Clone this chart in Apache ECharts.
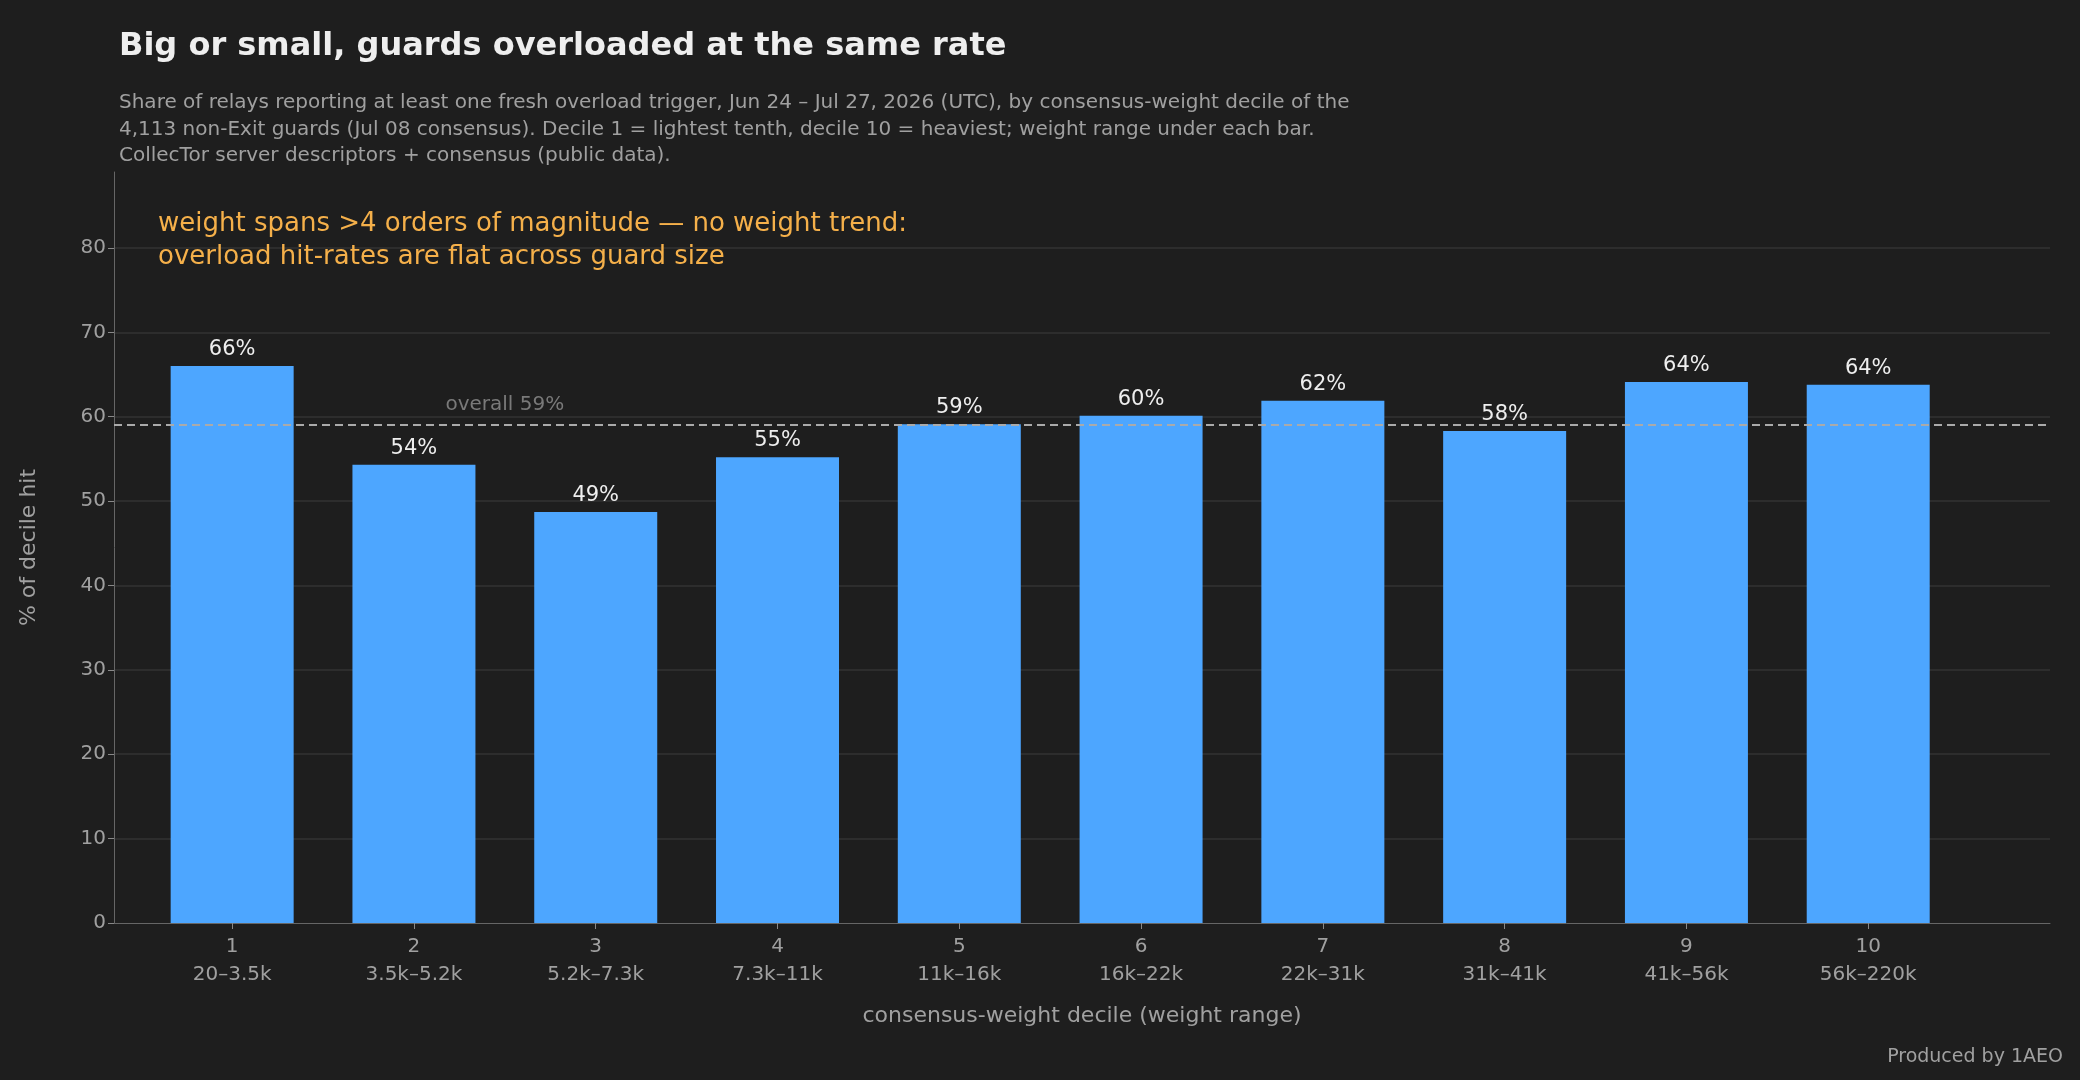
<!DOCTYPE html>
<html>
<head>
<meta charset="utf-8">
<script src="https://cdn.jsdelivr.net/npm/echarts@6/dist/echarts.min.js"></script>
<style>
  html, body { margin: 0; padding: 0; background: #1e1e1e; }
  #chart { width: 2080px; height: 1080px; }
</style>
</head>
<body>
<div id="chart"></div>
<script>
const deciles = [1, 2, 3, 4, 5, 6, 7, 8, 9, 10];
const weightRanges = ['20–3.5k', '3.5k–5.2k', '5.2k–7.3k', '7.3k–11k', '11k–16k',
    '16k–22k', '22k–31k', '31k–41k', '41k–56k', '56k–220k'];
const hitRates = [66.0, 54.3, 48.7, 55.2, 59.1, 60.1, 61.9, 58.3, 64.1, 63.8];
const overall = 59.1;
const yTicks = [0, 10, 20, 30, 40, 50, 60, 70, 80];

const font = '"DejaVu Sans", sans-serif';
let chart = echarts.init(document.getElementById('chart'));

chart.setOption({
    backgroundColor: '#1e1e1e',
    textStyle: { fontFamily: font },
    animation: false,
    title: [
        {
            text: 'Big or small, guards overloaded at the same rate',
            left: 114, top: 26,
            textStyle: { color: '#eeeeee', fontSize: 32, fontWeight: 'bold', fontFamily: font }
        },
        {
            text: 'Share of relays reporting at least one fresh overload trigger, Jun 24 – Jul 27, 2026 (UTC), by consensus-weight decile of the\n' +
                '4,113 non-Exit guards (Jul 08 consensus). Decile 1 = lightest tenth, decile 10 = heaviest; weight range under each bar.\n' +
                'CollecTor server descriptors + consensus (public data).',
            left: 114, top: 85,
            textStyle: { color: '#a0a0a0', fontSize: 20, lineHeight: 26.5, fontWeight: 'normal', fontFamily: font }
        },
        {
            text: 'weight spans >4 orders of magnitude — no weight trend:\noverload hit-rates are flat across guard size',
            left: 153, top: 203,
            textStyle: { color: '#f5b04a', fontSize: 26, lineHeight: 33, fontWeight: 'normal', fontFamily: font }
        },
        {
            text: 'Produced by 1AEO',
            right: 12, bottom: 8,
            textStyle: { color: '#a0a0a0', fontSize: 19, fontWeight: 'normal', fontFamily: font }
        }
    ],
    grid: { left: 114, right: 30, top: 172, bottom: 157 },
    xAxis: {
        type: 'value',
        min: 0.35, max: 11,
        name: 'consensus-weight decile (weight range)',
        nameLocation: 'middle', nameGap: 82,
        nameTextStyle: { color: '#a0a0a0', fontSize: 22 },
        axisLine: { show: true, lineStyle: { color: '#666' } },
        splitLine: { show: false },
        axisTick: { show: true, customValues: deciles, length: 6, lineStyle: { color: '#888' } },
        axisLabel: {
            customValues: deciles,
            color: '#a0a0a0', fontSize: 20, lineHeight: 28, margin: 10,
            formatter: v => v + '\n' + weightRanges[deciles.indexOf(v)]
        }
    },
    yAxis: {
        type: 'value',
        min: 0, max: 89,
        name: '% of decile hit',
        nameLocation: 'middle', nameGap: 74,
        nameTextStyle: { color: '#a0a0a0', fontSize: 22 },
        axisLine: { show: true, lineStyle: { color: '#666' } },
        axisTick: { show: true, customValues: yTicks, length: 6, lineStyle: { color: '#888' } },
        axisLabel: { customValues: yTicks, color: '#a0a0a0', fontSize: 20 },
        splitLine: { show: true, showMinLine: false, lineStyle: { color: '#333', width: 1.5 } }
    },
    series: [
        {
            type: 'bar',
            barWidth: 123,
            itemStyle: { color: '#4da6ff' },
            data: deciles.map((d, i) => [d, hitRates[i]]),
            label: {
                show: true, position: 'top', distance: 6,
                color: '#eeeeee', fontSize: 21,
                formatter: p => Math.round(p.value[1]) + '%'
            },
            markLine: {
                silent: true, symbol: 'none',
                lineStyle: { color: '#aaaaaa', type: [8, 5], width: 1.8 },
                label: { show: false },
                data: [{ yAxis: overall }]
            }
        },
        {
            type: 'scatter',
            symbolSize: 0,
            data: [[2.5, overall]],
            label: {
                show: true, position: 'top', distance: 10,
                color: '#909090', fontSize: 20,
                formatter: 'overall ' + Math.round(overall) + '%'
            }
        }
    ]
});
window.onresize = function () {
    chart.resize();
};
</script>
</body>
</html>
